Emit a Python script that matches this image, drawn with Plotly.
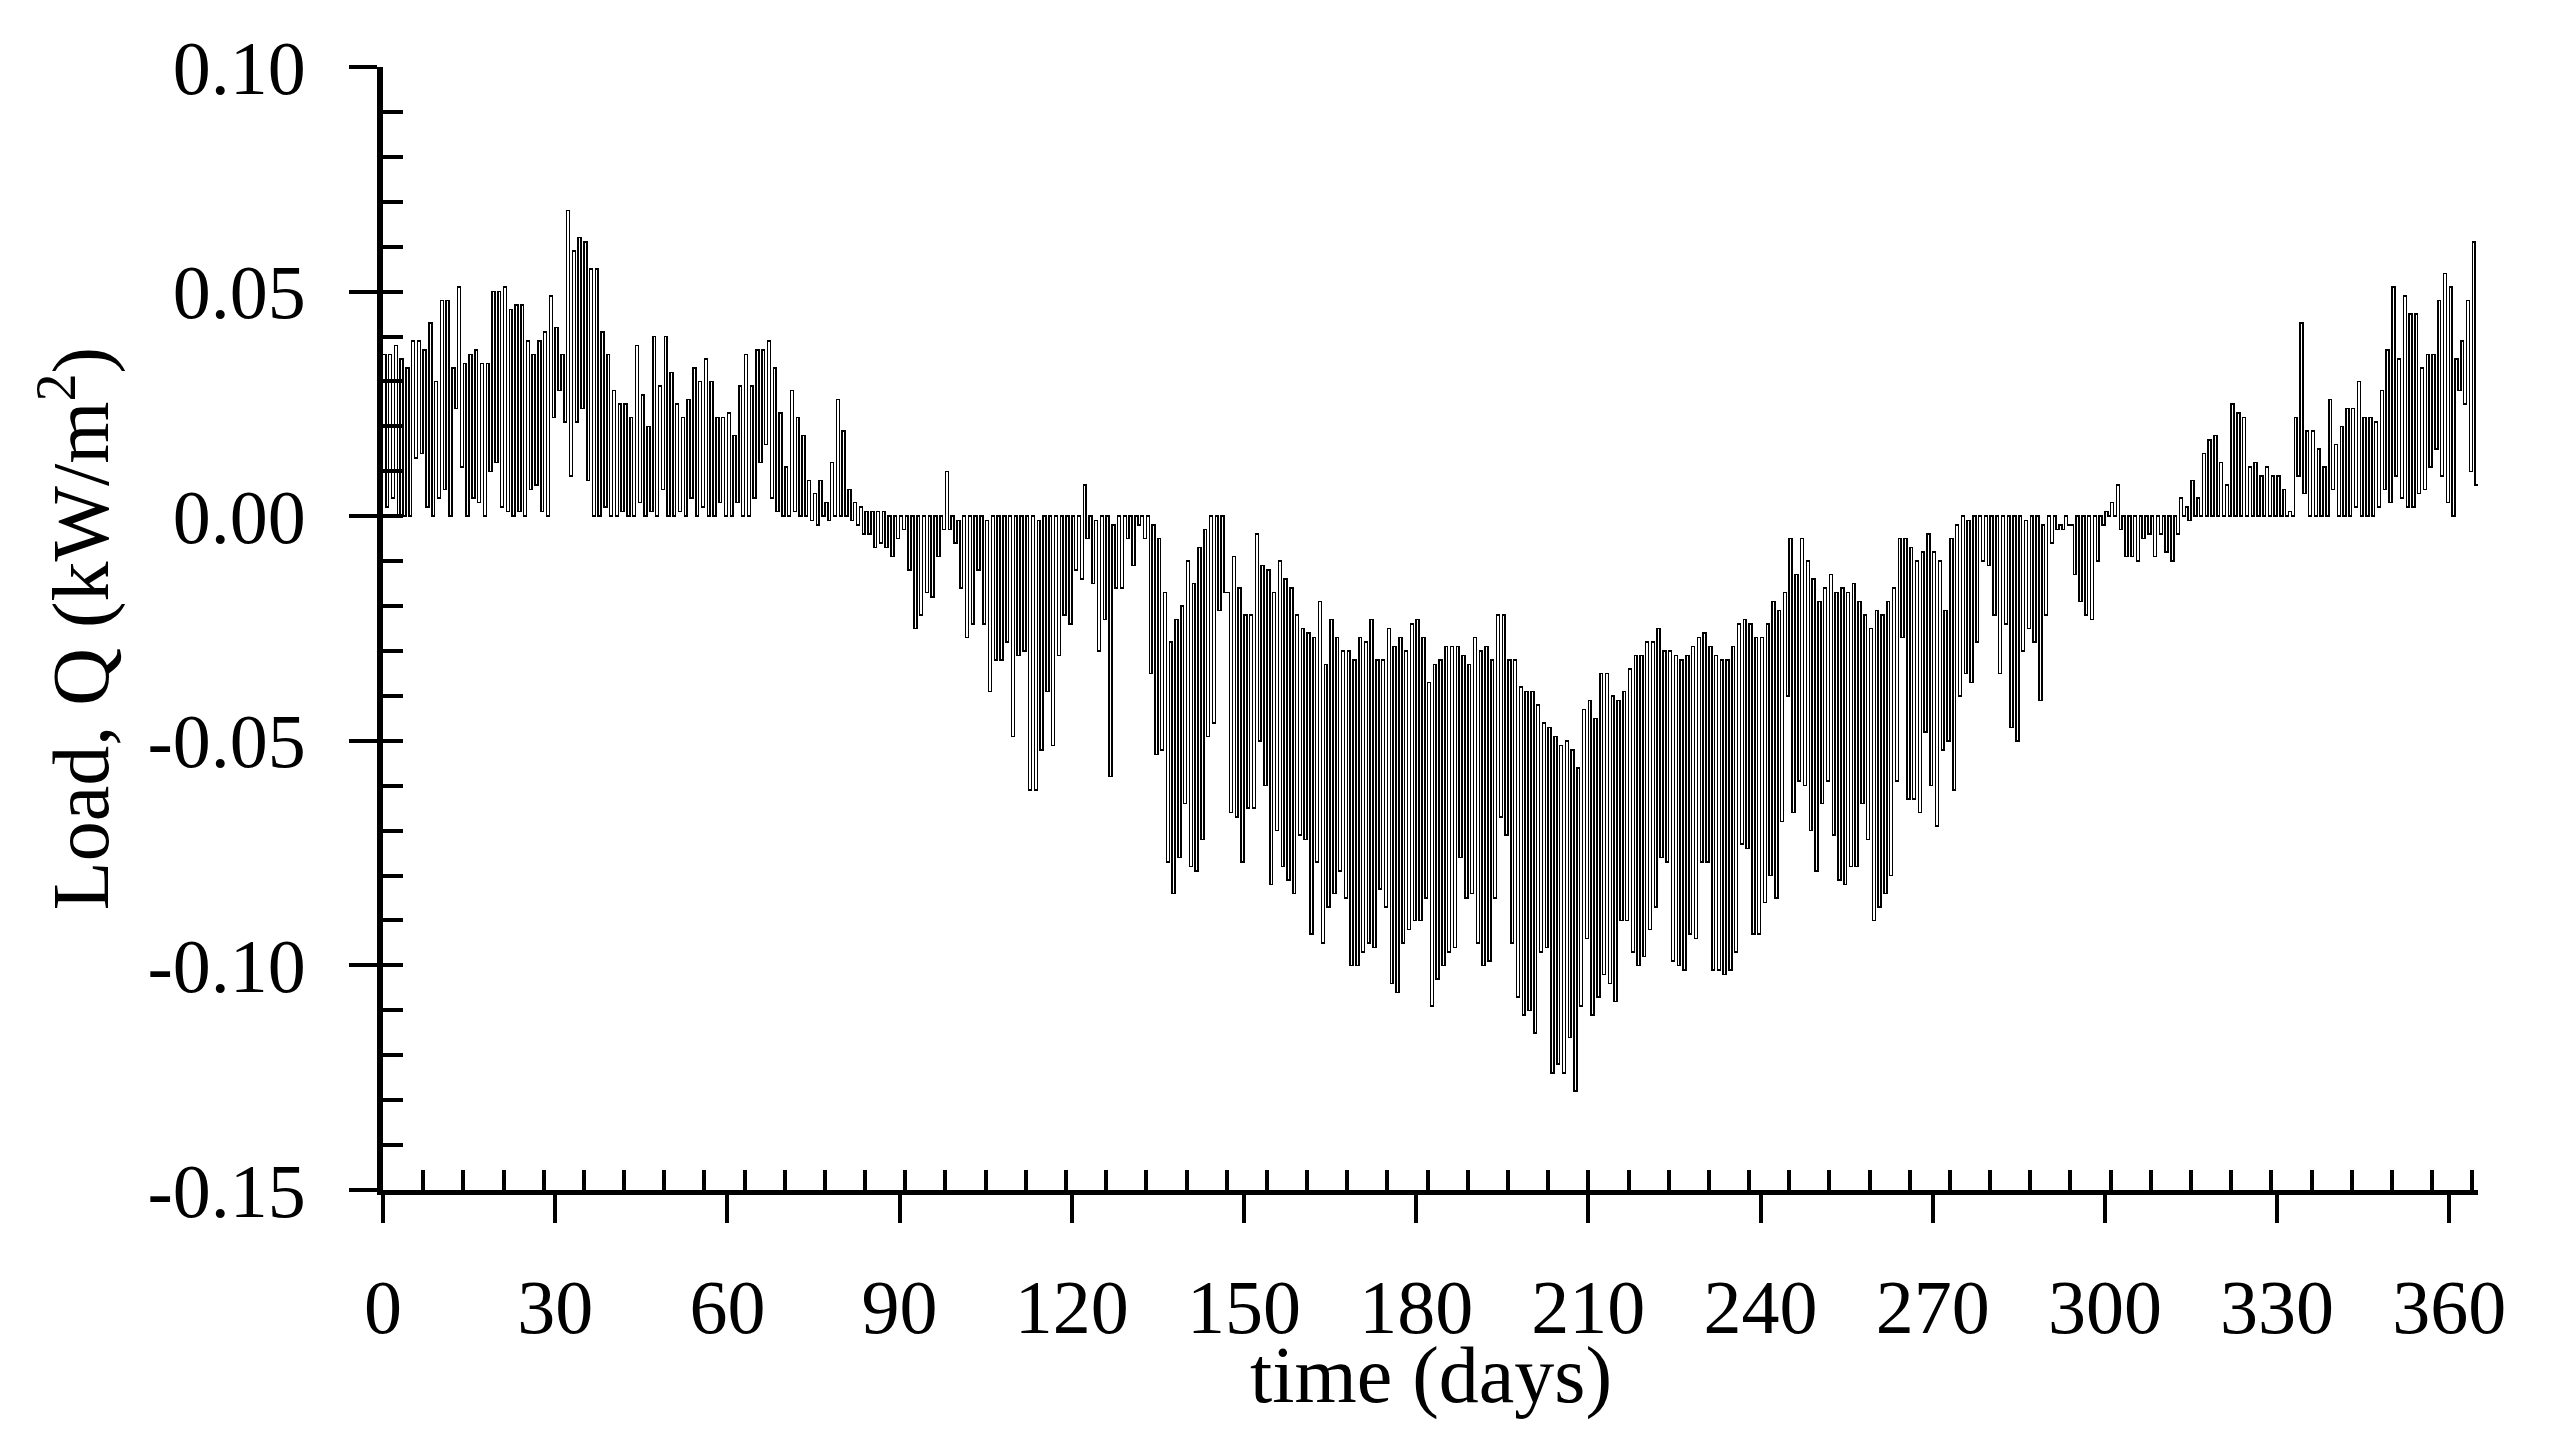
import plotly.graph_objects as go

# Daily upper level of the load trace (kW/m2), days 0..364
day_max = [
    0.036, 0.036, 0.038, 0.035, 0.033, 0.039, 0.039, 0.037, 0.043, 0.030,
    0.048, 0.048, 0.033, 0.051, 0.034, 0.036, 0.037, 0.034, 0.034, 0.050,
    0.050, 0.051, 0.046, 0.047, 0.047, 0.039, 0.036, 0.039, 0.041, 0.049,
    0.042, 0.036, 0.068, 0.059, 0.062, 0.061, 0.055, 0.055, 0.041, 0.036,
    0.028, 0.025, 0.025, 0.022, 0.038, 0.027, 0.020, 0.040, 0.029, 0.040,
    0.032, 0.025, 0.022, 0.026, 0.033, 0.030, 0.035, 0.030, 0.022, 0.022,
    0.023, 0.018, 0.029, 0.036, 0.029, 0.037, 0.037, 0.039, 0.033, 0.023,
    0.011, 0.028, 0.022, 0.018, 0.008, 0.005, 0.008, 0.003, 0.012, 0.026,
    0.019, 0.006, 0.003, 0.002, 0.001, 0.001, 0.001, 0.001, 0.000, 0.000,
    0.000, 0.000, 0.000, 0.000, 0.000, 0.000, 0.000, 0.000, 0.010, 0.000,
    -0.001, 0.000, 0.000, 0.000, 0.000, -0.001, 0.000, 0.000, 0.000, 0.000,
    0.000, 0.000, 0.000, 0.000, -0.001, 0.000, 0.000, 0.000, 0.000, 0.000,
    0.000, 0.000, 0.007, 0.000, -0.001, 0.000, 0.000, -0.002, 0.000, 0.000,
    0.000, 0.000, 0.000, 0.000, -0.002, -0.005, -0.017, -0.028, -0.023, -0.020,
    -0.010, -0.015, -0.007, -0.003, 0.000, 0.000, 0.000, -0.017, -0.009, -0.016,
    -0.022, -0.022, -0.004, -0.011, -0.012, -0.017, -0.010, -0.014, -0.016, -0.022,
    -0.025, -0.026, -0.027, -0.019, -0.033, -0.023, -0.027, -0.030, -0.030, -0.032,
    -0.027, -0.028, -0.023, -0.032, -0.032, -0.025, -0.029, -0.027, -0.030, -0.024,
    -0.023, -0.027, -0.037, -0.033, -0.032, -0.029, -0.029, -0.029, -0.031, -0.033,
    -0.027, -0.030, -0.029, -0.032, -0.022, -0.022, -0.032, -0.032, -0.038, -0.039,
    -0.039, -0.042, -0.046, -0.047, -0.049, -0.051, -0.050, -0.052, -0.056, -0.043,
    -0.041, -0.045, -0.035, -0.035, -0.040, -0.041, -0.039, -0.034, -0.031, -0.031,
    -0.028, -0.028, -0.025, -0.030, -0.030, -0.031, -0.032, -0.031, -0.029, -0.027,
    -0.026, -0.029, -0.031, -0.032, -0.032, -0.029, -0.024, -0.023, -0.024, -0.027,
    -0.027, -0.024, -0.019, -0.021, -0.017, -0.005, -0.013, -0.005, -0.010, -0.014,
    -0.019, -0.016, -0.013, -0.017, -0.016, -0.017, -0.015, -0.019, -0.022, -0.025,
    -0.021, -0.022, -0.019, -0.016, -0.005, -0.005, -0.007, -0.010, -0.008, -0.004,
    -0.008, -0.010, -0.021, -0.005, -0.002, 0.000, -0.001, 0.000, 0.000, 0.000,
    0.000, 0.000, 0.000, 0.000, 0.000, 0.000, -0.001, 0.000, 0.000, -0.002,
    0.000, 0.000, -0.002, 0.000, -0.002, 0.000, 0.000, 0.000, 0.000, 0.000,
    0.001, 0.003, 0.007, 0.000, 0.000, 0.000, 0.000, 0.000, 0.000, 0.000,
    0.000, 0.000, 0.000, 0.004, 0.002, 0.008, 0.004, 0.014, 0.017, 0.018,
    0.012, 0.007, 0.025, 0.023, 0.022, 0.011, 0.012, 0.009, 0.011, 0.009,
    0.009, 0.006, 0.001, 0.022, 0.043, 0.019, 0.019, 0.015, 0.011, 0.026,
    0.016, 0.020, 0.024, 0.024, 0.030, 0.022, 0.022, 0.021, 0.028, 0.037,
    0.051, 0.035, 0.049, 0.045, 0.045, 0.033, 0.036, 0.036, 0.048, 0.054,
    0.051, 0.035, 0.039, 0.048, 0.061,
]

# Daily lower level of the load trace (kW/m2), days 0..364
day_min = [
    0.002, 0.004, 0.000, 0.000, 0.000, 0.013, 0.014, 0.002, 0.000, 0.004,
    0.006, 0.000, 0.024, 0.011, 0.000, 0.004, 0.003, 0.000, 0.010, 0.012,
    0.002, 0.001, 0.000, 0.001, 0.000, 0.006, 0.007, 0.001, 0.000, 0.022,
    0.028, 0.021, 0.009, 0.021, 0.024, 0.008, 0.000, 0.000, 0.002, 0.000,
    0.000, 0.001, 0.000, 0.000, 0.003, 0.000, 0.001, 0.000, 0.006, 0.000,
    0.000, 0.001, 0.000, 0.004, 0.000, 0.002, 0.000, 0.000, 0.003, 0.000,
    0.000, 0.003, 0.000, 0.000, 0.004, 0.012, 0.016, 0.004, 0.001, 0.000,
    0.000, 0.001, 0.000, 0.000, -0.001, -0.002, 0.000, -0.001, 0.000, 0.000,
    0.000, -0.001, -0.002, -0.004, -0.004, -0.007, -0.006, -0.007, -0.009, -0.005,
    -0.003, -0.012, -0.025, -0.022, -0.017, -0.018, -0.009, -0.003, -0.003, -0.006,
    -0.016, -0.027, -0.024, -0.012, -0.024, -0.039, -0.032, -0.032, -0.028, -0.049,
    -0.031, -0.030, -0.061, -0.061, -0.052, -0.039, -0.051, -0.031, -0.022, -0.024,
    -0.012, -0.014, -0.005, -0.015, -0.030, -0.023, -0.058, -0.016, -0.016, -0.005,
    -0.011, -0.002, -0.005, -0.035, -0.053, -0.052, -0.077, -0.084, -0.076, -0.064,
    -0.078, -0.079, -0.072, -0.049, -0.046, -0.021, -0.017, -0.066, -0.067, -0.077,
    -0.065, -0.065, -0.050, -0.060, -0.082, -0.070, -0.078, -0.081, -0.084, -0.071,
    -0.072, -0.093, -0.077, -0.095, -0.087, -0.084, -0.079, -0.085, -0.100, -0.100,
    -0.097, -0.095, -0.096, -0.083, -0.087, -0.104, -0.106, -0.095, -0.092, -0.090,
    -0.090, -0.085, -0.109, -0.103, -0.100, -0.097, -0.096, -0.076, -0.085, -0.084,
    -0.095, -0.100, -0.099, -0.085, -0.067, -0.071, -0.095, -0.107, -0.111, -0.110,
    -0.115, -0.097, -0.096, -0.124, -0.122, -0.124, -0.116, -0.128, -0.109, -0.094,
    -0.111, -0.107, -0.102, -0.104, -0.108, -0.090, -0.090, -0.097, -0.100, -0.098,
    -0.092, -0.087, -0.076, -0.077, -0.099, -0.100, -0.101, -0.093, -0.094, -0.077,
    -0.077, -0.101, -0.101, -0.102, -0.101, -0.097, -0.073, -0.074, -0.093, -0.093,
    -0.086, -0.080, -0.085, -0.068, -0.040, -0.066, -0.059, -0.060, -0.070, -0.079,
    -0.064, -0.059, -0.071, -0.081, -0.082, -0.078, -0.078, -0.064, -0.072, -0.090,
    -0.087, -0.084, -0.080, -0.059, -0.027, -0.063, -0.063, -0.066, -0.048, -0.060,
    -0.069, -0.052, -0.050, -0.061, -0.040, -0.035, -0.037, -0.028, -0.010, -0.011,
    -0.022, -0.035, -0.024, -0.047, -0.050, -0.030, -0.025, -0.028, -0.041, -0.022,
    -0.006, -0.003, -0.003, -0.002, -0.013, -0.019, -0.022, -0.023, -0.010, -0.002,
    0.000, 0.000, -0.003, -0.009, -0.009, -0.010, -0.005, -0.004, -0.009, -0.004,
    -0.008, -0.010, -0.004, 0.000, -0.001, 0.000, 0.000, 0.000, 0.000, 0.000,
    0.000, 0.000, 0.000, 0.000, 0.000, 0.000, 0.000, 0.000, 0.000, 0.000,
    0.000, 0.000, 0.000, 0.009, 0.005, 0.000, 0.000, 0.000, 0.000, 0.006,
    0.000, 0.000, 0.000, 0.002, 0.000, 0.000, 0.000, 0.002, 0.006, 0.003,
    0.009, 0.004, 0.002, 0.002, 0.005, 0.006, 0.011, 0.015, 0.009, 0.003,
    0.000, 0.028, 0.025, 0.010, 0.007,
]

x_major_ticks = [0, 30, 60, 90, 120, 150, 180, 210, 240, 270, 300, 330, 360]
x_minor_ticks = list(range(0, 365, 7))          # weekly minor ticks
y_major_ticks = [-0.15, -0.10, -0.05, 0.00, 0.05, 0.10]
y_major_text = ["-0.15", "-0.10", "-0.05", "0.00", "0.05", "0.10"]
y_minor_ticks = [round(-0.15 + 0.01 * i, 2) for i in range(26)]

# build the time series: each day steps between its two levels
xs, ys = [], []
for d, (hi, lo) in enumerate(zip(day_max, day_min)):
    xs += [d, d + 0.5]
    ys += [hi, lo]
xs.append(len(day_max))
ys.append(day_min[-1])

FONT = "Liberation Serif"

fig = go.Figure()
fig.add_trace(go.Scatter(
    x=xs, y=ys, mode="lines",
    line=dict(color="black", width=1.5, shape="hv"),
    showlegend=False, hoverinfo="skip",
))
# empty trace to attach the minor-tick overlay axes
fig.add_trace(go.Scatter(x=[None], y=[None], xaxis="x2", yaxis="y2",
                         showlegend=False, hoverinfo="skip"))

common = dict(showgrid=False, zeroline=False, tickcolor="black")

fig.update_layout(
    width=2562, height=1446,
    paper_bgcolor="white", plot_bgcolor="white",
    margin=dict(l=383, r=84, t=67, b=256, pad=0),
    font=dict(family=FONT, color="black", size=76),
    xaxis=dict(
        range=[0, 365], tickmode="array", tickvals=x_major_ticks,
        ticks="outside", ticklen=28, tickwidth=4,
        showline=True, linewidth=5, linecolor="black",
        tickfont=dict(family=FONT, size=76), ticklabelstandoff=19,
        automargin=False, **common,
    ),
    xaxis2=dict(
        overlaying="x", anchor="y", side="bottom", range=[0, 365],
        tickmode="array", tickvals=x_minor_ticks, ticks="inside",
        ticklen=20, tickwidth=4, showticklabels=False, showline=False,
        automargin=False, **common,
    ),
    yaxis=dict(
        range=[-0.15, 0.10], tickmode="array", tickvals=y_major_ticks,
        ticktext=y_major_text, ticks="outside", ticklen=28, tickwidth=4,
        showline=True, linewidth=6, linecolor="black",
        tickfont=dict(family=FONT, size=76), ticklabelstandoff=28,
        title=dict(text="Load, Q (kW/m<sup>2</sup>)", font=dict(family=FONT, size=80),
                   standoff=14),
        automargin=False, **common,
    ),
    yaxis2=dict(
        overlaying="y", anchor="x", side="left", range=[-0.15, 0.10],
        tickmode="array", tickvals=y_minor_ticks, ticks="inside",
        ticklen=20, tickwidth=4, showticklabels=False, showline=False,
        automargin=False, **common,
    ),
    annotations=[dict(
        text="time (days)", xref="paper", yref="paper", x=0.5, y=-0.1656,
        xanchor="center", yanchor="middle", showarrow=False,
        font=dict(family=FONT, size=80, color="black"),
    )],
)

fig.write_html(
    "out.html",
    config={"displayModeBar": False},
    post_script=(
        "document.body.style.margin='0';document.body.style.overflow='hidden';"
        "document.head.insertAdjacentHTML('beforeend',"
        "'<style>.scatterlayer path{shape-rendering:crispEdges}</style>');"
    ),
)
